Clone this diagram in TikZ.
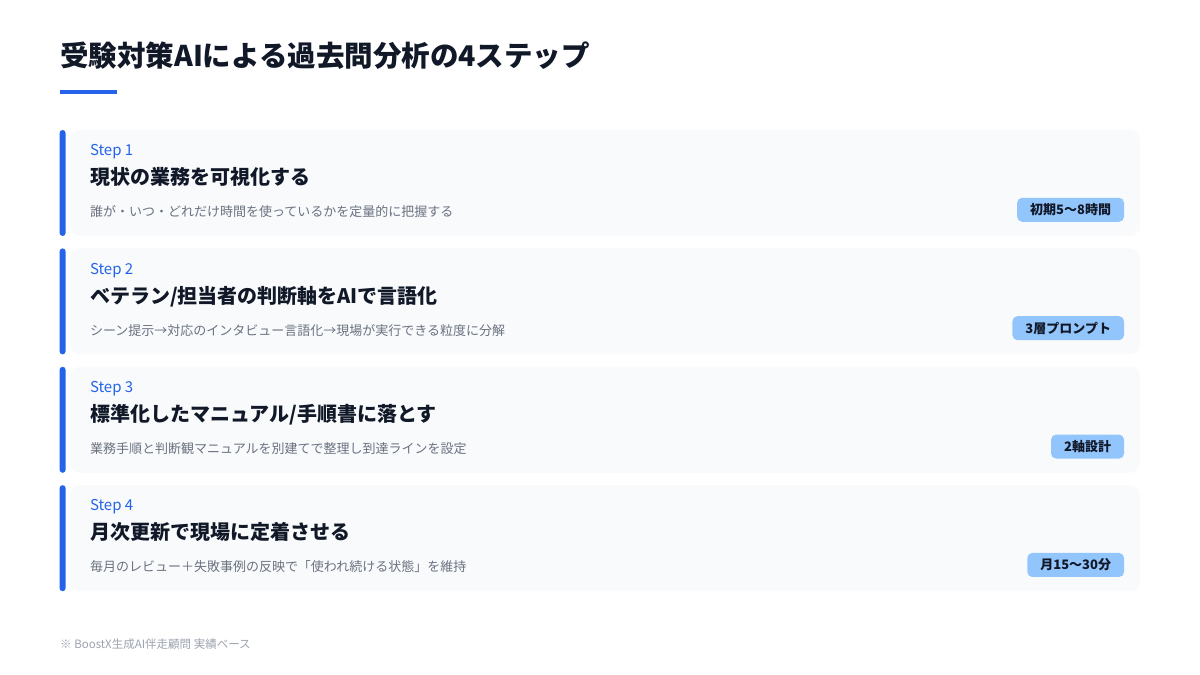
\documentclass[tikz,border=0pt]{standalone}
\usepackage{fontspec}
\setmainfont{Noto Sans CJK JP}
\usetikzlibrary{positioning}
\usepackage{xcolor}
\definecolor{ink}{HTML}{111827}
\definecolor{accent}{HTML}{2563EB}
\definecolor{cardbg}{HTML}{F8FAFC}
\definecolor{muted}{HTML}{6B7280}
\definecolor{faint}{HTML}{9CA3AF}
\definecolor{tagbg}{HTML}{93C5FD}
\tikzset{
	card/.style={rectangle,rounded corners=10pt,fill=cardbg,minimum width=1070pt,minimum height=106pt,inner sep=0pt},
	accentbar/.style={rectangle,rounded corners=3pt,fill=accent,minimum width=6pt,minimum height=106pt,inner sep=0pt},
	steplabel/.style={anchor=base west,inner sep=0pt,text=accent,font=\fontsize{15}{18}\selectfont},
	steptitle/.style={anchor=base west,inner sep=0pt,text=ink,font=\fontsize{20}{24}\selectfont\bfseries},
	stepdesc/.style={anchor=base west,inner sep=0pt,text=muted,font=\fontsize{13}{16}\selectfont},
	tagbox/.style={rectangle,rounded corners=5pt,fill=tagbg,text=ink,anchor=east,minimum height=24pt,inner xsep=13pt,inner ysep=0pt,font=\fontsize{13}{15}\selectfont\bfseries}
}
\begin{document}
\begin{tikzpicture}[x=1pt,y=1pt]
				\useasboundingbox (0,0) rectangle (1200,675);
				\fill [white] (0,0) rectangle (1200,675);
				\node (head) [anchor=base west,inner sep=0pt,text=ink,font=\fontsize{28.5}{34}\selectfont\bfseries] at (60,608) {受験対策AIによる過去問分析の4ステップ};
				\fill [accent] (60,581) rectangle (117,585);
				% step cards
				\node (card1) [card] at (605,492) {};
				\node (card2) [card,below=12pt of card1] {};
				\node (card3) [card,below=12pt of card2] {};
				\node (card4) [card,below=12pt of card3] {};
				\node (bar1) [accentbar,left=4pt of card1] {};
				\node (bar2) [accentbar,left=4pt of card2] {};
				\node (bar3) [accentbar,left=4pt of card3] {};
				\node (bar4) [accentbar,left=4pt of card4] {};
				% step 1
				\node (lbl1) [steplabel] at ([shift={(20pt,-26pt)}]card1.north west) {Step 1};
				\node (ttl1) [steptitle] at ([yshift=-29pt]lbl1.base west) {現状の業務を可視化する};
				\node (dsc1) [stepdesc] at ([yshift=-32pt]ttl1.base west) {誰が・いつ・どれだけ時間を使っているかを定量的に把握する};
				\node (tag1) [tagbox] at ([shift={(-16pt,-80pt)}]card1.north east) {初期5〜8時間};
				% step 2
				\node (lbl2) [steplabel] at ([shift={(20pt,-26pt)}]card2.north west) {Step 2};
				\node (ttl2) [steptitle] at ([yshift=-29pt]lbl2.base west) {ベテラン/担当者の判断軸をAIで言語化};
				\node (dsc2) [stepdesc] at ([yshift=-32pt]ttl2.base west) {シーン提示→対応のインタビュー言語化→現場が実行できる粒度に分解};
				\node (tag2) [tagbox] at ([shift={(-16pt,-80pt)}]card2.north east) {3層プロンプト};
				% step 3
				\node (lbl3) [steplabel] at ([shift={(20pt,-26pt)}]card3.north west) {Step 3};
				\node (ttl3) [steptitle] at ([yshift=-29pt]lbl3.base west) {標準化したマニュアル/手順書に落とす};
				\node (dsc3) [stepdesc] at ([yshift=-32pt]ttl3.base west) {業務手順と判断観マニュアルを別建てで整理し到達ラインを設定};
				\node (tag3) [tagbox] at ([shift={(-16pt,-80pt)}]card3.north east) {2軸設計};
				% step 4
				\node (lbl4) [steplabel] at ([shift={(20pt,-26pt)}]card4.north west) {Step 4};
				\node (ttl4) [steptitle] at ([yshift=-29pt]lbl4.base west) {月次更新で現場に定着させる};
				\node (dsc4) [stepdesc] at ([yshift=-32pt]ttl4.base west) {毎月のレビュー＋失敗事例の反映で「使われ続ける状態」を維持};
				\node (tag4) [tagbox] at ([shift={(-16pt,-80pt)}]card4.north east) {月15〜30分};
				\node (note) [anchor=base west,inner sep=0pt,text=faint,font=\fontsize{11.5}{14}\selectfont] at (60,26) {※ BoostX生成AI伴走顧問 実績ベース};
			\end{tikzpicture}
\end{document}
